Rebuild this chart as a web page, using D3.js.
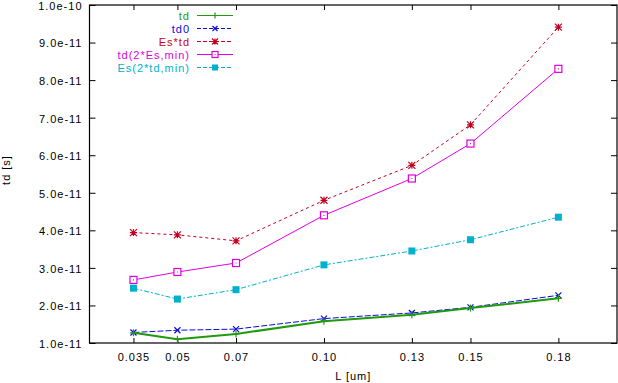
<!DOCTYPE html>
<html>
<head>
<meta charset="utf-8">
<style>
    body { margin: 0; background: #fff; }
    svg { display: block; font-family: 'Liberation Sans', Arial, sans-serif; }
    .axis text { font-size: 11px; letter-spacing: 1px; fill: #000; }
    .axis .domain { display: none; }
    .axis .tick line { stroke: #000; }
    .label { font-size: 11px; letter-spacing: 1px; }
    .legend text { font-size: 11px; letter-spacing: 1px; }
</style>
</head>
<body>
<svg width="618" height="383"></svg>
<script src="https://d3js.org/d3.v7.min.js"></script>
<script>
    let lengths = [0.035, 0.05, 0.07, 0.10, 0.13, 0.15, 0.18];
    let xTickLabels = ["0.035", "0.05", "0.07", "0.10", "0.13", "0.15", "0.18"];
    let yTickValues = [1e-11, 2e-11, 3e-11, 4e-11, 5e-11, 6e-11, 7e-11, 8e-11, 9e-11, 1e-10];
    let yTickLabels = ["1.0e-11", "2.0e-11", "3.0e-11", "4.0e-11", "5.0e-11",
                       "6.0e-11", "7.0e-11", "8.0e-11", "9.0e-11", "1.0e-10"];

    let seriesNames = ["td", "td0", "Es*td", "td(2*Es,min)", "Es(2*td,min)"];
    let td = [1.27e-11, 1.10e-11, 1.24e-11, 1.58e-11, 1.75e-11, 1.93e-11, 2.19e-11];
    let td0 = [1.28e-11, 1.34e-11, 1.37e-11, 1.65e-11, 1.80e-11, 1.95e-11, 2.27e-11];
    let esTd = [3.94e-11, 3.88e-11, 3.72e-11, 4.80e-11, 5.73e-11, 6.81e-11, 9.41e-11];
    let td2Es = [2.68e-11, 2.89e-11, 3.13e-11, 4.40e-11, 5.38e-11, 6.31e-11, 8.30e-11];
    let es2Td = [2.46e-11, 2.17e-11, 2.42e-11, 3.08e-11, 3.45e-11, 3.75e-11, 4.35e-11];

    let svg = d3.select("svg");
    let margin = { top: 5, right: 1, bottom: 40, left: 89.5 };
    let width = 618, height = 383;

    let x = d3.scaleLinear().domain([0.02, 0.2]).range([margin.left, width - margin.right]);
    let y = d3.scaleLinear().domain([1e-11, 1e-10]).range([height - margin.bottom, margin.top]);

    // axes, ticks pointing inward on all four sides
    svg.append("g").attr("class", "x axis")
        .attr("transform", `translate(0,${y.range()[0]})`)
        .call(d3.axisBottom(x).tickValues(lengths).tickSize(-5).tickPadding(10.5)
            .tickFormat((d, i) => xTickLabels[i]));
    svg.append("g").attr("class", "x axis")
        .attr("transform", `translate(0,${y.range()[1]})`)
        .call(d3.axisTop(x).tickValues(lengths).tickSize(-5).tickFormat(""));
    svg.append("g").attr("class", "y axis")
        .attr("transform", `translate(${x.range()[0]},0)`)
        .call(d3.axisLeft(y).tickValues(yTickValues).tickSize(-6).tickPadding(7)
            .tickFormat((d, i) => yTickLabels[i]))
        .selectAll("text").attr("dy", "0.4em");
    svg.append("g").attr("class", "y axis")
        .attr("transform", `translate(${x.range()[1]},0)`)
        .call(d3.axisRight(y).tickValues(yTickValues).tickSize(-6).tickFormat(""));

    svg.append("rect")
        .attr("x", x.range()[0]).attr("y", y.range()[1])
        .attr("width", x.range()[1] - x.range()[0])
        .attr("height", y.range()[0] - y.range()[1])
        .attr("fill", "none").attr("stroke", "#000").attr("stroke-width", 1.2);

    svg.append("text").attr("class", "label")
        .attr("x", (x.range()[0] + x.range()[1]) / 2).attr("y", 380)
        .attr("text-anchor", "middle").text("L [um]");
    svg.append("text").attr("class", "label")
        .attr("transform", "translate(10,170) rotate(-90)")
        .attr("text-anchor", "middle").text("td [s]");

    // marker drawers
    function plus(g, s) {
        g.append("path").attr("d", `M${-s},0H${s}M0,${-s}V${s}`);
    }
    function cross(g, s) {
        g.append("path").attr("d", `M${-s},${-s}L${s},${s}M${-s},${s}L${s},${-s}`);
    }
    function star(g, s) {
        g.append("path").attr("d", `M${-s},0H${s}M0,${-s}V${s}M${-s},${-s}L${s},${s}M${-s},${s}L${s},${-s}`);
    }
    function openSquare(g, s) {
        g.append("rect").attr("x", -s).attr("y", -s).attr("width", 2 * s).attr("height", 2 * s).attr("fill", "#fff");
        g.append("path").attr("d", "M-0.5,0H0.5");
    }
    function fillSquare(g, s) {
        g.append("rect").attr("x", -s).attr("y", -s).attr("width", 2 * s).attr("height", 2 * s)
            .attr("stroke", "none").attr("class", "filled");
    }

    let series = [
        { name: seriesNames[0], values: td, color: "#1f9a0c", dash: null, width: 2, marker: plus, size: 3.5 },
        { name: seriesNames[1], values: td0, color: "#0a0ae0", dash: "6,2", width: 1, marker: cross, size: 3 },
        { name: seriesNames[2], values: esTd, color: "#c80020", dash: "3,3", width: 1, marker: star, size: 3.5 },
        { name: seriesNames[3], values: td2Es, color: "#e000e0", dash: null, width: 1, marker: openSquare, size: 3.5 },
        { name: seriesNames[4], values: es2Td, color: "#00b0cc", dash: "5,2,2,2", width: 1, marker: fillSquare, size: 3.5 }
    ];

    let line = d3.line().x((d, i) => x(lengths[i])).y(d => y(d));

    // draw in reverse so td ends on top
    series.slice().reverse().forEach(s => {
        svg.append("path")
            .attr("d", line(s.values))
            .attr("fill", "none")
            .attr("stroke", s.color)
            .attr("stroke-width", s.width)
            .attr("stroke-dasharray", s.dash);
        s.values.forEach((v, i) => {
            let g = svg.append("g")
                .attr("transform", `translate(${x(lengths[i])},${y(v)})`)
                .attr("stroke", s.color).attr("fill", "none").attr("stroke-width", 1.2);
            s.marker(g, s.size);
            g.selectAll(".filled").attr("fill", s.color);
        });
    });

    // legend
    let legend = svg.append("g").attr("class", "legend");
    series.forEach((s, i) => {
        let ly = 15.5 + i * 13;
        legend.append("text")
            .attr("x", 190).attr("y", ly + 4)
            .attr("text-anchor", "end")
            .attr("fill", s.color)
            .text(s.name);
        legend.append("line")
            .attr("x1", 197).attr("x2", 233).attr("y1", ly).attr("y2", ly)
            .attr("stroke", s.color).attr("stroke-width", 1)
            .attr("stroke-dasharray", s.dash ? "4,2" : null);
        let g = legend.append("g")
            .attr("transform", `translate(215,${ly})`)
            .attr("stroke", s.color).attr("fill", "none").attr("stroke-width", 1.2);
        s.marker(g, s.size - 0.5);
        g.selectAll(".filled").attr("fill", s.color);
    });
</script>
</body>
</html>
